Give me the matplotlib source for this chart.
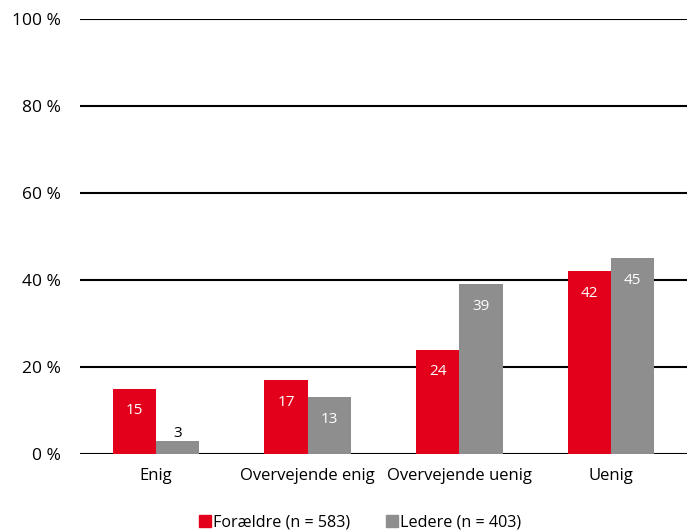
import matplotlib.pyplot as plt
import numpy as np
from matplotlib.lines import Line2D

plt.rcParams['font.family'] = ['Open Sans', 'DejaVu Sans']

kategorier = ['Enig', 'Overvejende enig', 'Overvejende uenig', 'Uenig']
foraeldre = [15, 17, 24, 42]
ledere = [3, 13, 39, 45]
serier = ['Forældre (n = 583)', 'Ledere (n = 403)']
yticks = [0, 20, 40, 60, 80, 100]

rod = '#E2001A'
graa = '#8E8E8E'

fig = plt.figure(figsize=(6.87, 5.32), dpi=100)
ax = fig.add_axes([0.1164, 0.1466, 0.8836, 0.8177])

x = np.arange(len(kategorier))
w = 0.285

for yv in yticks:
    ax.axhline(yv, color='black', linewidth=1.5, zorder=1)

b1 = ax.bar(x - w / 2, foraeldre, w, color=rod, zorder=2)
b2 = ax.bar(x + w / 2, ledere, w, color=graa, zorder=2)

# tal i soejlerne
for bars, vals in [(b1, foraeldre), (b2, ledere)]:
    for b, v in zip(bars, vals):
        cx = b.get_x() + b.get_width() / 2
        if v < 6:
            ax.annotate(str(v), (cx, v), xytext=(0, 0), textcoords='offset points',
                        ha='center', va='bottom', fontsize=11, color='black')
        else:
            ax.annotate(str(v), (cx, v), xytext=(0, -16), textcoords='offset points',
                        ha='center', va='center', fontsize=11, color='white')

ax.set_xlim(-0.5, 3.5)
ax.set_ylim(0, 100)
ax.set_yticks(yticks)
ax.set_yticklabels([f'{t} %' for t in yticks], fontsize=12.5)
ax.set_xticks(x)
ax.set_xticklabels(kategorier, fontsize=12)
ax.tick_params(length=0)
ax.tick_params(axis='y', pad=14)
ax.tick_params(axis='x', pad=10)
for s in ax.spines.values():
    s.set_visible(False)

handles = [Line2D([], [], marker='s', linestyle='', color=rod, markersize=8),
           Line2D([], [], marker='s', linestyle='', color=graa, markersize=8)]
fig.legend(handles, serier, loc='lower center', bbox_to_anchor=(0.522, -0.025), ncol=2,
           frameon=False, fontsize=11.6, handletextpad=-0.1, columnspacing=2.0,
           handlelength=1.2)

fig.savefig('out.png', dpi=100)
